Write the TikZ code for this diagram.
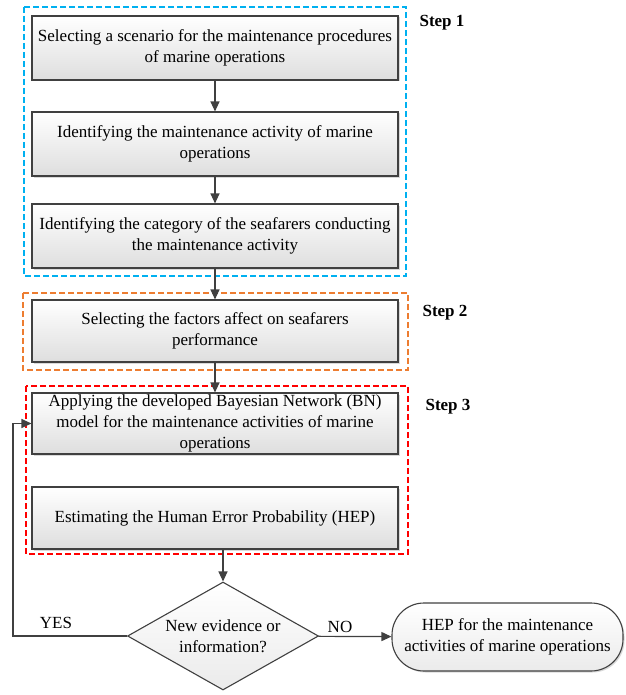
\documentclass[tikz,border=0pt]{standalone}
\usepackage{fontspec}
\setmainfont{Liberation Serif}
\usetikzlibrary{shapes.geometric,arrows.meta,shadows}
\definecolor{framblue}{RGB}{0,176,240}
\definecolor{framorange}{RGB}{237,125,49}
\definecolor{linegray}{RGB}{64,64,64}
\begin{document}
\begin{tikzpicture}[x=1pt,y=-1pt,
    box/.style={draw=linegray,line width=1.1pt,top color=white,bottom color=black!13,
      minimum width=366pt,minimum height=64pt,inner sep=0pt,align=center,
      font=\fontsize{17}{21}\selectfont,
      drop shadow={shadow xshift=1.5pt,shadow yshift=-1.5pt,opacity=.3}},
    arr/.style={draw=linegray,line width=1.2pt,-{Triangle[length=10pt,width=9pt]}},
    frame/.style={line width=1.8pt,dash pattern=on 6pt off 3pt},
    lbl/.style={font=\fontsize{17}{21}\selectfont},
    steplbl/.style={font=\fontsize{17}{21}\selectfont\bfseries}]
  \useasboundingbox (0,0) rectangle (625,695);

    \draw[frame,framblue] (24,7) rectangle (406,276);
    \draw[frame,framorange] (23,293) rectangle (408,370);
    \draw[frame,red] (26,386) rectangle (408,554);

    \node[box] (scen) at (215,48) {Selecting a scenario for the maintenance procedures\\of marine operations};
    \node[box] (ident) at (215,144) {Identifying the maintenance activity of marine\\operations};
    \node[box] (categ) at (215,236) {Identifying the category of the seafarers conducting\\the maintenance activity};
    \node[box,minimum height=62pt] (fact) at (215,331) {Selecting the factors affect on seafarers\\performance};
    \node[box,minimum height=61pt] (apply) at (215,423.5) {Applying the developed Bayesian Network (BN)\\model for the maintenance activities of marine\\operations};
    \node[box,minimum height=62pt] (estim) at (215,518) {Estimating the Human Error Probability (HEP)};

    \node[diamond,draw=linegray,line width=1.1pt,top color=white,bottom color=black!8,inner sep=0pt,
      minimum width=191pt,minimum height=108pt] (dec) at (223,636) {};
    \node[lbl,align=center] (dectxt) at (dec) {New evidence or\\information?};
    \node[box,rounded corners=32pt,minimum width=231pt,minimum height=68pt,
      top color=white,bottom color=black!8] (hep) at (507.5,637)
      {HEP for the maintenance\\activities of marine operations};

    \node[steplbl] (st1) at (442,23) {Step 1};
    \node[steplbl] (st2) at (445,313) {Step 2};
    \node[steplbl] (st3) at (448,407) {Step 3};

    \draw[arr] (scen) -- (ident);
    \draw[arr] (ident) -- (categ);
    \draw[arr] (categ) -- (fact);
    \draw[arr] (fact) -- (apply);
    \draw[arr] (estim.south -| dec.north) -- (dec.north);
    \draw[arr] (dec) -- (hep);
    \coordinate (back) at (13,636);
    \draw[arr] (dec.west) -- (back) |- (apply.west);
    \node[lbl] (yes) at (56,623) {YES};
    \node[lbl] (no) at (340,627) {NO};
\end{tikzpicture}
\end{document}
